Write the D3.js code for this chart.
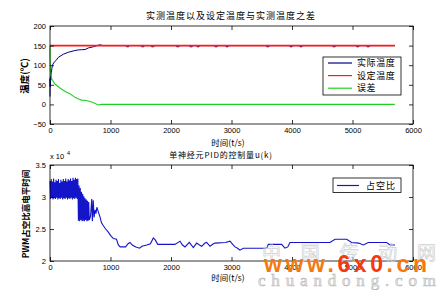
<!DOCTYPE html>
<html>
<head>
<meta charset="utf-8">
<script src="https://cdn.jsdelivr.net/npm/d3@7"></script>
<style>
  html, body { margin: 0; padding: 0; background: #fff; }
  svg { display: block; }
  text { font-family: "Liberation Sans", Arial, sans-serif; }
  .cn { font-family: "Noto Sans CJK SC", sans-serif; }
</style>
</head>
<body>
<div id="chart"></div>
<script>
// top plot: measured temperature, set temperature, error
const actualT = [0, 2, 4, 6, 8, 10, 13, 16, 22, 40, 70, 100, 137, 220, 303, 400, 468, 520, 580, 634, 716, 798, 830, 870,
  1260, 1267, 1300, 1301, 1510, 1515, 1550, 1551, 1675, 1680, 1715, 1716,
  2090, 2094, 2130, 2131, 2310, 2314, 2350, 2351, 2425, 2430, 2465, 2466,
  2722, 2727, 2762, 2763, 2904, 2909, 2944, 2945, 3577, 3582, 3617, 3618,
  3962, 3967, 4002, 4003, 4127, 4132, 4167, 4168, 4673, 4678, 4713, 4714,
  5064, 5069, 5104, 5105, 5235, 5240, 5275, 5276, 5700];
const actualV = [20, 65, 45, 70, 50, 72, 62, 74, 82, 100, 108, 112, 120, 128, 133, 137, 139, 139.5, 140, 144, 147, 151, 152, 150,
  150, 147, 147, 150, 150, 147, 147, 150, 150, 147, 147, 150,
  150, 147, 147, 150, 150, 147, 147, 150, 150, 147, 147, 150,
  150, 147, 147, 150, 150, 147, 147, 150, 150, 147, 147, 150,
  150, 147, 147, 150, 150, 147, 147, 150, 150, 147, 147, 150,
  150, 147, 147, 150, 150, 147, 147, 150, 150];
const setT = [0, 5700];
const setV = [150, 150];
const errT = [0, 1, 3, 6, 10, 15, 25, 40, 80, 137, 165, 250, 330, 413, 470, 524, 600, 650, 720, 800, 850, 5700];
const errV = [150, 130, 105, 90, 80, 73, 67, 62, 52, 45, 42, 33, 27, 18, 14, 11, 10, 8, 4, -1.5, 0, 0];

// bottom plot: PWM duty (x 10^4)
const pwmT = [0, 10, 20, 30, 40, 50, 60, 70, 80, 90, 100, 110, 120, 130, 140, 150, 160, 170, 180, 190,
  200, 210, 220, 230, 240, 250, 260, 270, 280, 290, 300, 310, 320, 330, 340, 350, 360, 370, 380, 390,
  400, 410, 420, 430, 440, 450, 460, 470, 480, 490, 500, 510, 520, 530, 540, 550, 560, 570, 580, 590,
  600, 610, 620, 630, 640, 650, 670, 690, 700, 715, 728, 745, 760, 775, 795, 826, 850, 882, 920, 964,
  1000, 1047, 1100, 1129, 1160, 1250, 1290, 1322, 1360, 1420, 1480, 1520, 1600, 1660, 1708, 1740, 1780,
  2066, 2149, 2190, 2231, 2303, 2369, 2424, 2470, 2507, 2560, 2590, 2645, 2700, 2727, 2900, 2975, 3020,
  3058, 3100, 3140, 3195, 3582, 3609, 3829, 3884, 3930, 3967, 4628, 4711, 4904, 4986, 5100, 5179, 5261,
  5565, 5620, 5702];
const pwmV = [3.25, 2.97, 3.28, 2.99, 3.24, 2.96, 3.29, 2.98, 3.23, 2.97, 3.27, 2.99, 3.25, 2.96, 3.28, 2.98, 3.22, 2.97, 3.27, 2.99,
  3.24, 2.96, 3.28, 2.98, 3.25, 2.97, 3.29, 2.99, 3.24, 2.96, 3.28, 2.98, 3.26, 2.97, 3.29, 2.99, 3.25, 2.96, 3.30, 2.98,
  3.27, 2.97, 3.30, 2.99, 3.28, 2.97, 3.29, 2.63, 3.18, 2.62, 3.14, 2.64, 3.08, 2.62, 3.05, 2.63, 3.01, 2.62, 2.98, 2.64,
  2.96, 2.62, 2.94, 2.63, 2.92, 2.64, 2.70, 2.97, 2.62, 2.95, 2.68, 2.80, 2.74, 2.84, 2.78, 2.69, 2.60, 2.55, 2.50, 2.45,
  2.40, 2.35, 2.34, 2.25, 2.22, 2.22, 2.27, 2.29, 2.25, 2.22, 2.20, 2.23, 2.25, 2.27, 2.36, 2.33, 2.26,
  2.26, 2.31, 2.25, 2.22, 2.29, 2.21, 2.28, 2.25, 2.23, 2.28, 2.29, 2.23, 2.27, 2.28, 2.29, 2.31, 2.26,
  2.22, 2.20, 2.17, 2.20, 2.20, 2.26, 2.26, 2.20, 2.22, 2.29, 2.29, 2.34, 2.34, 2.29, 2.28, 2.25, 2.29,
  2.29, 2.25, 2.25];

const xTicks = [0, 1000, 2000, 3000, 4000, 5000, 6000];
const topYTicks = [-50, 0, 50, 100, 150, 200];
const botYTicks = [2, 2.5, 3, 3.5];

const W = 439, H = 290;
const svg = d3.select('#chart').append('svg')
  .attr('width', W)
  .attr('height', H);

svg.append('rect').attr('width', W).attr('height', H).attr('fill', '#fff');

const left = 50, right = 413;

// draws one boxed MATLAB-style axes
function drawAxes(x, y, yTicks, yFmt) {
  const g = svg.append('g');
  const [x0, x1] = x.range();
  const [y0, y1] = y.range();

  g.append('g')
    .attr('transform', `translate(0,${y0})`)
    .call(d3.axisBottom(x).tickValues(xTicks).tickFormat(d3.format('d'))
      .tickSizeInner(-4).tickSizeOuter(0).tickPadding(4))
    .call(a => a.select('.domain').remove());
  g.append('g')
    .attr('transform', `translate(0,${y1})`)
    .call(d3.axisTop(x).tickValues(xTicks).tickSizeInner(-4).tickSizeOuter(0).tickFormat(''))
    .call(a => a.select('.domain').remove());
  g.append('g')
    .attr('transform', `translate(${x0},0)`)
    .call(d3.axisLeft(y).tickValues(yTicks).tickFormat(yFmt).tickSizeInner(-4).tickSizeOuter(0).tickPadding(4))
    .call(a => a.select('.domain').remove());
  g.append('g')
    .attr('transform', `translate(${x1},0)`)
    .call(d3.axisRight(y).tickValues(yTicks).tickSizeInner(-4).tickSizeOuter(0).tickFormat(''))
    .call(a => a.select('.domain').remove());

  g.selectAll('.tick line').attr('stroke', '#000').attr('stroke-width', 0.8);
  g.selectAll('.tick text').attr('font-size', 7.5).attr('fill', '#000')
    .style('font-family', '"Liberation Sans", Arial, sans-serif');

  g.append('rect')
    .attr('x', x0).attr('y', y1)
    .attr('width', x1 - x0).attr('height', y0 - y1)
    .attr('fill', 'none').attr('stroke', '#000').attr('stroke-width', 0.8);
  return g;
}

function addLine(x, y, ts, vs, color, width) {
  const pts = ts.map((t, i) => [t, vs[i]]);
  svg.append('path')
    .datum(pts)
    .attr('fill', 'none')
    .attr('stroke', color)
    .attr('stroke-width', width)
    .attr('d', d3.line().x(d => x(d[0])).y(d => y(d[1])));
}

// ---- top axes ----
const x1s = d3.scaleLinear().domain([0, 6000]).range([left, right]);
const y1s = d3.scaleLinear().domain([-50, 200]).range([124, 26]);

addLine(x1s, y1s, actualT, actualV, '#000080', 1.0);
addLine(x1s, y1s, setT, setV, '#ff1a1a', 1.8);
addLine(x1s, y1s, errT, errV, '#20d020', 1.1);
drawAxes(x1s, y1s, topYTicks, d3.format('d'));

svg.append('text').attr('class', 'cn')
  .attr('x', 231).attr('y', 19)
  .attr('text-anchor', 'middle')
  .attr('font-size', 9).attr('letter-spacing', 1)
  .text('实测温度以及设定温度与实测温度之差');

svg.append('text').attr('class', 'cn')
  .attr('x', 228).attr('y', 146)
  .attr('text-anchor', 'middle')
  .attr('font-size', 8.5)
  .text('时间(t/s)');

svg.append('text').attr('class', 'cn')
  .attr('transform', 'translate(28,76) rotate(-90)')
  .attr('text-anchor', 'middle')
  .attr('font-size', 9.5).attr('font-weight', 'bold')
  .text('温度(℃)');

// top legend
const legTop = [
  { label: '实际温度', color: '#000080' },
  { label: '设定温度', color: '#ff1a1a' },
  { label: '误差', color: '#20d020' }
];
svg.append('rect')
  .attr('x', 323).attr('y', 57).attr('width', 78).attr('height', 38)
  .attr('fill', '#fff').attr('stroke', '#000').attr('stroke-width', 0.8);
legTop.forEach((d, i) => {
  const yy = 63 + i * 12.6;
  svg.append('line')
    .attr('x1', 328).attr('x2', 352).attr('y1', yy).attr('y2', yy)
    .attr('stroke', d.color).attr('stroke-width', 1.2);
  svg.append('text').attr('class', 'cn')
    .attr('x', 357).attr('y', yy + 3.2)
    .attr('font-size', 9).attr('letter-spacing', 0.6)
    .text(d.label);
});

// ---- bottom axes ----
const x2s = d3.scaleLinear().domain([0, 6000]).range([left, right]);
const y2s = d3.scaleLinear().domain([2, 3.5]).range([261, 165]);

addLine(x2s, y2s, pwmT, pwmV, '#1414c8', 1.1);
drawAxes(x2s, y2s, botYTicks, d3.format('~g'));

svg.append('text')
  .attr('x', 50).attr('y', 159)
  .attr('font-size', 7.5)
  .text('x 10');
svg.append('text')
  .attr('x', 67).attr('y', 155)
  .attr('font-size', 5.5)
  .text('4');

svg.append('text').attr('class', 'cn')
  .attr('x', 221).attr('y', 158)
  .attr('text-anchor', 'middle')
  .attr('font-size', 8).attr('letter-spacing', 0.8)
  .text('单神经元PID的控制量u(k)');

svg.append('text').attr('class', 'cn')
  .attr('x', 228).attr('y', 281)
  .attr('text-anchor', 'middle')
  .attr('font-size', 8.5)
  .text('时间(t/s)');

svg.append('text').attr('class', 'cn')
  .attr('transform', 'translate(29,214) rotate(-90)')
  .attr('text-anchor', 'middle')
  .attr('font-size', 8.5).attr('font-weight', 'bold')
  .text('PWM占空比高电平时间');

svg.append('rect')
  .attr('x', 333).attr('y', 178).attr('width', 68).attr('height', 14.5)
  .attr('fill', '#fff').attr('stroke', '#000').attr('stroke-width', 0.8);
svg.append('line')
  .attr('x1', 337).attr('x2', 359).attr('y1', 185.5).attr('y2', 185.5)
  .attr('stroke', '#1414c8').attr('stroke-width', 1.2);
svg.append('text').attr('class', 'cn')
  .attr('x', 366).attr('y', 188.5)
  .attr('font-size', 9).attr('letter-spacing', 1)
  .text('占空比');

// ---- watermark (drawn over the lower plot as in the source image) ----
svg.append('text').attr('class', 'cn')
  .attr('x', 262).attr('y', 260)
  .attr('font-size', 19)
  .attr('textLength', 174)
  .attr('fill', 'none').attr('stroke', '#d0d0d0').attr('stroke-width', 0.7)
  .text('中国传动网');

const wm = svg.append('text')
  .attr('x', 264).attr('y', 272)
  .attr('font-size', 23).attr('font-weight', 'bold')
  .attr('textLength', 163)
  .style('font-family', '"Liberation Sans", Arial, sans-serif');
wm.append('tspan').attr('fill', '#f47a10').text('www.');
wm.append('tspan').attr('fill', '#f43a10').text('6x0');
wm.append('tspan').attr('fill', '#f47a10').text('.cn');

svg.append('text')
  .attr('x', 258).attr('y', 286)
  .attr('font-size', 17)
  .attr('textLength', 178)
  .attr('fill', '#eeeeee').attr('stroke', '#b8b8b8').attr('stroke-width', 0.6)
  .style('font-family', '"Liberation Serif", serif')
  .text('chuandong.com');
</script>
</body>
</html>
